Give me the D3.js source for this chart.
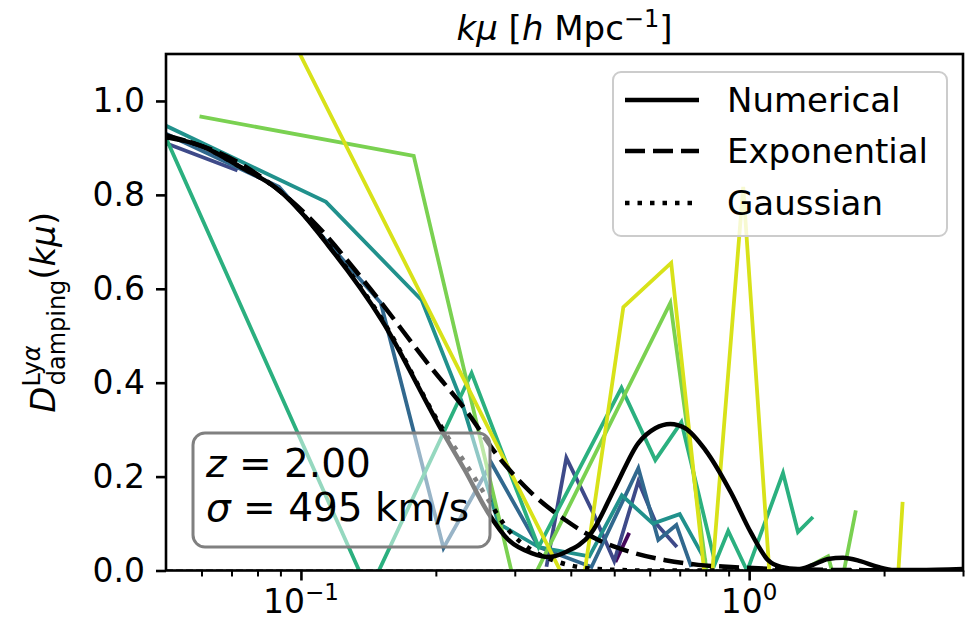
<!DOCTYPE html>
<html>
<head>
<meta charset="utf-8">
<script src="https://cdn.jsdelivr.net/npm/d3@7"></script>
<style>
  html, body { margin: 0; padding: 0; background: #fff; }
  svg { display: block; font-family: "DejaVu Sans", sans-serif; }
</style>
</head>
<body>
<svg id="chart" width="969" height="626"></svg>
<script>
// Measured damping, one polyline per mu-bin (null = gap in the measurement)
const seriesColors = ["#46085c", "#3e4a89", "#31688e", "#21918c", "#2bb07f", "#7ad151", "#d8e219"];

const purpleK = [0.503, 0.54];
const purpleD = [0.018, 0.08];

const indigoK = [0.05, 0.0722, null, 0.353, 0.391, 0.45, 0.50, 0.566, 0.62, 0.69];
const indigoD = [0.91, 0.852, null, 0.008, 0.24, 0.12, 0.02, 0.19, 0.10, 0.05];

const blueK = [0.05, 0.0893, 0.1507, 0.208, 0.266, 0.339, 0.445, 0.566, 0.627, 0.688, 0.743];
const blueD = [0.93, 0.817, 0.570, 0.048, 0.229, 0.05, 0.0075, 0.218, 0.065, 0.097, 0.0075];

const tealK = [0.05, 0.1137, 0.186, 0.228, 0.276, 0.339, 0.44, 0.52, 0.61, 0.70, 0.80];
const tealD = [0.947, 0.785, 0.5756, 0.362, 0.10, 0.05, 0.03, 0.16, 0.10, 0.12, 0.02];

const greenTealK = [0.05, 0.1417, 0.2403, 0.339, 0.519, 0.6175, 0.706, 0.840, 0.898, 0.990, 1.19, 1.285, 1.388];
const greenTealD = [0.921, -0.046, 0.4206, 0.050, 0.389, 0.235, 0.316, 0.016, 0.084, -0.001, 0.2076, 0.082, 0.114];

const greenK = [0.0594, 0.1785, 0.3075, 0.667, 0.83, 1.5, 1.54, 1.59, 1.73];
const greenD = [0.967, 0.883, -0.075, 0.570, -0.10, 0.03, -0.01, -0.05, 0.128];

const yellowK = [0.0594, 0.418, 0.524, 0.670, 0.813, 0.970, 1.148, 2.13, 2.20];
const yellowD = [1.524, -0.081, 0.561, 0.655, -0.094, 0.817, -0.212, -0.073, 0.146];

// Model curves
const numK = [0.05, 0.0593, 0.0728, 0.0893, 0.1173, 0.1515, 0.206, 0.232, 0.262, 0.2905, 0.327, 0.3566, 0.389, 0.4446, 0.503, 0.566, 0.6175, 0.667, 0.720, 0.798, 0.912, 1.010, 1.102, 1.178, 1.285, 1.388, 1.5, 1.62, 1.77, 1.94, 2.11, 2.38, 3.0];
const numD = [0.923, 0.906, 0.861, 0.810, 0.682, 0.533, 0.299, 0.214, 0.122, 0.065, 0.037, 0.0287, 0.039, 0.080, 0.178, 0.2715, 0.303, 0.312, 0.303, 0.257, 0.165, 0.080, 0.022, 0.0075, 0.003, 0.012, 0.0245, 0.027, 0.020, 0.0075, 0.001, 0.001, 0.003];

const expK = [0.05, 0.0728, 0.1058, 0.1395, 0.196, 0.233, 0.276, 0.327, 0.389, 0.461, 0.546, 0.650, 0.770, 0.912, 1.16, 1.66, 3.0];
const expD = [0.927, 0.868, 0.746, 0.612, 0.43, 0.342, 0.242, 0.165, 0.1075, 0.065, 0.039, 0.022, 0.012, 0.0075, 0.003, 0.001, 0.0];

const gauK = [0.05, 0.0593, 0.0728, 0.0893, 0.1173, 0.1515, 0.206, 0.2366, 0.262, 0.2905, 0.327, 0.370, 0.416, 0.461, 0.6, 3.0];
const gauD = [0.923, 0.906, 0.861, 0.810, 0.684, 0.536, 0.305, 0.218, 0.150, 0.086, 0.0437, 0.020, 0.0075, 0.003, 0.0, 0.0];

const legendLabels = ["Numerical", "Exponential", "Gaussian"];
const yTicks = [0.0, 0.2, 0.4, 0.6, 0.8, 1.0];
const xMajorTicks = [0.1, 1];
const xMinorTicks = [0.06, 0.07, 0.08, 0.09, 0.2, 0.3, 0.4, 0.5, 0.6, 0.7, 0.8, 0.9, 2, 3];

const plot = { left: 166, right: 963, top: 54, bottom: 570.5 };

const svg = d3.select("#chart");
const x = d3.scaleLog().domain([0.05, 3]).range([plot.left, plot.right]);
const y = d3.scaleLinear().domain([0, 1.1]).range([plot.bottom, plot.top]);

svg.append("defs").append("clipPath").attr("id", "clip")
  .append("rect").attr("x", plot.left).attr("y", plot.top)
  .attr("width", plot.right - plot.left).attr("height", plot.bottom - plot.top);

const zip = (ks, ds) => ks.map((k, i) => ({ k, d: ds[i] }));
const line = d3.line()
  .defined(p => p.k !== null && p.d !== null)
  .x(p => x(p.k)).y(p => y(p.d));
const smooth = d3.line().curve(d3.curveMonotoneX).x(p => x(p.k)).y(p => y(p.d));

const g = svg.append("g").attr("clip-path", "url(#clip)");

// zero reference
g.append("line").attr("x1", plot.left).attr("x2", plot.right)
  .attr("y1", y(0)).attr("y2", y(0))
  .attr("stroke", "#000").attr("stroke-width", 1.8).attr("stroke-dasharray", "7,3");

const measured = [
  [purpleK, purpleD], [indigoK, indigoD], [blueK, blueD], [tealK, tealD],
  [greenTealK, greenTealD], [greenK, greenD], [yellowK, yellowD]
];
measured.forEach(([ks, ds], i) => {
  g.append("path").attr("d", line(zip(ks, ds)))
    .attr("fill", "none").attr("stroke", seriesColors[i])
    .attr("stroke-width", 3.8).attr("stroke-linejoin", "miter");
});

const models = [
  { ks: numK, ds: numD, dash: null },
  { ks: expK, ds: expD, dash: "20,8" },
  { ks: gauK, ds: gauD, dash: "4.5,8" }
];
models.forEach(m => {
  g.append("path").attr("d", smooth(zip(m.ks, m.ds)))
    .attr("fill", "none").attr("stroke", "#000").attr("stroke-width", 4.5)
    .attr("stroke-dasharray", m.dash);
});

// Axes frame
svg.append("rect").attr("x", plot.left).attr("y", plot.top)
  .attr("width", plot.right - plot.left).attr("height", plot.bottom - plot.top)
  .attr("fill", "none").attr("stroke", "#000").attr("stroke-width", 2.6);

const yAxis = d3.axisLeft(y).tickValues(yTicks).tickFormat(d3.format(".1f"))
  .tickSize(10).tickPadding(11);
const ya = svg.append("g").attr("transform", `translate(${plot.left},0)`).call(yAxis);
ya.select(".domain").remove();
ya.selectAll(".tick line").attr("stroke-width", 2.6);
ya.selectAll(".tick text").attr("font-size", 33).attr("font-family", "DejaVu Sans").attr("fill", "#000");

const xAxisMajor = d3.axisBottom(x).tickValues(xMajorTicks).tickFormat(() => "").tickSize(10);
const xa = svg.append("g").attr("transform", `translate(0,${plot.bottom})`).call(xAxisMajor);
xa.select(".domain").remove();
xa.selectAll(".tick line").attr("stroke-width", 2.6);
const xAxisMinor = d3.axisBottom(x).tickValues(xMinorTicks).tickFormat(() => "").tickSize(6);
const xm = svg.append("g").attr("transform", `translate(0,${plot.bottom})`).call(xAxisMinor);
xm.select(".domain").remove();
xm.selectAll(".tick line").attr("stroke-width", 2);

// major tick labels as 10^n
xMajorTicks.forEach(v => {
  const p = Math.round(Math.log10(v));
  const t = svg.append("text").attr("x", x(v)).attr("y", 613)
    .attr("text-anchor", "middle").attr("font-size", 33).attr("fill", "#000");
  t.append("tspan").text("10");
  t.append("tspan").attr("dy", -13).attr("font-size", 23)
    .text(p < 0 ? "\u2212" + Math.abs(p) : String(p));
});

// Title on top (x quantity)
const title = svg.append("text").attr("x", (plot.left + plot.right) / 2).attr("y", 40)
  .attr("text-anchor", "middle").attr("font-size", 34).attr("fill", "#000");
title.append("tspan").attr("font-style", "italic").text("kμ");
title.append("tspan").text(" [");
title.append("tspan").attr("font-style", "italic").text("h");
title.append("tspan").text(" Mpc");
title.append("tspan").attr("dy", -13).attr("font-size", 24).text("\u22121");
title.append("tspan").attr("dy", 13).text("]");

// Y label
const ylab = svg.append("text")
  .attr("transform", `translate(55,${(plot.top + plot.bottom) / 2}) rotate(-90)`)
  .attr("text-anchor", "middle").attr("font-size", 34).attr("fill", "#000");
ylab.append("tspan").attr("font-style", "italic").text("D");
ylab.append("tspan").attr("dy", -15).attr("font-size", 24).text("Ly");
ylab.append("tspan").attr("font-size", 24).attr("font-style", "italic").text("α");
ylab.append("tspan").attr("dy", 25).attr("dx", -40).attr("font-size", 24).text("damping");
ylab.append("tspan").attr("dy", -10).text("(");
ylab.append("tspan").attr("font-style", "italic").text("kμ");
ylab.append("tspan").text(")");

// Annotation box
const box = svg.append("g");
box.append("rect").attr("x", 193).attr("y", 433).attr("width", 297).attr("height", 114)
  .attr("rx", 12).attr("fill", "#fff").attr("fill-opacity", 0.5)
  .attr("stroke", "#808080").attr("stroke-width", 3);
const t1 = box.append("text").attr("x", 206).attr("y", 477).attr("font-size", 39).attr("fill", "#000");
t1.append("tspan").attr("font-style", "italic").text("z");
t1.append("tspan").text(" = 2.00");
const t2 = box.append("text").attr("x", 206).attr("y", 521).attr("font-size", 39).attr("fill", "#000");
t2.append("tspan").attr("font-style", "italic").text("σ");
t2.append("tspan").text(" = 495 km/s");

// Legend
const lg = svg.append("g");
lg.append("rect").attr("x", 613).attr("y", 72).attr("width", 334).attr("height", 164)
  .attr("rx", 8).attr("fill", "#fff").attr("fill-opacity", 0.8)
  .attr("stroke", "#cccccc").attr("stroke-width", 2);
const rows = [100, 151, 203];
const dashes = [null, "20,8", "4.5,8"];
legendLabels.forEach((lab, i) => {
  lg.append("line").attr("x1", 625).attr("x2", 699).attr("y1", rows[i]).attr("y2", rows[i])
    .attr("stroke", "#000").attr("stroke-width", 4.5).attr("stroke-dasharray", dashes[i]);
  lg.append("text").attr("x", 727).attr("y", rows[i] + 12).attr("font-size", 34)
    .attr("fill", "#000").text(lab);
});
</script>
</body>
</html>
